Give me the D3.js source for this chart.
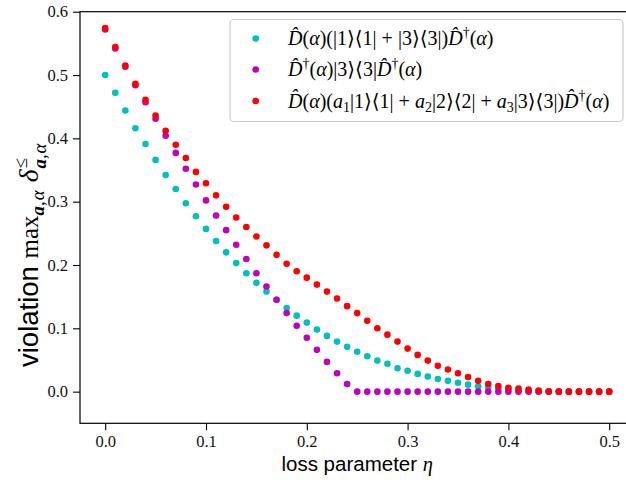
<!DOCTYPE html>
<html>
<head>
<meta charset="utf-8">
<script src="https://cdn.jsdelivr.net/npm/d3@7"></script>
<style>
  html, body { margin: 0; padding: 0; background: #fff; }
  svg { display: block; }
  text { white-space: pre; }
</style>
</head>
<body>
<svg id="chart" width="626" height="487"></svg>
<script>
// ---------- data ----------
const eta = [0.00,0.01,0.02,0.03,0.04,0.05,0.06,0.07,0.08,0.09,
             0.10,0.11,0.12,0.13,0.14,0.15,0.16,0.17,0.18,0.19,
             0.20,0.21,0.22,0.23,0.24,0.25,0.26,0.27,0.28,0.29,
             0.30,0.31,0.32,0.33,0.34,0.35,0.36,0.37,0.38,0.39,
             0.40,0.41,0.42,0.43,0.44,0.45,0.46,0.47,0.48,0.49,0.50];

const cyanVals = [0.500,0.472,0.444,0.416,0.391,0.366,0.342,0.320,0.2975,0.277,
                  0.257,0.238,0.220,0.203,0.187,0.172,0.158,0.145,0.132,0.120,
                  0.109,0.098,0.088,0.079,0.071,0.063,0.056,0.049,0.044,0.037,
                  0.033,0.028,0.024,0.020,0.017,0.014,0.011,0.0085,0.0065,0.005,
                  0.0035,0.0023,0.0013,0.0006,0.0002,0,0,0,0,0,0];

const magentaVals = [0.572,0.542,0.513,0.484,0.457,0.431,0.404,0.377,0.352,0.327,
                     0.302,0.278,0.255,0.232,0.2095,0.187,0.166,0.145,0.124,0.104,
                     0.085,0.066,0.047,0.029,0.012,0,0,0,0,0,
                     0,0,0,0,0,0,0,0,0,0,
                     0,0,0,0,0,0,0,0,0,0,0];

const redVals = [0.574,0.544,0.515,0.486,0.461,0.436,0.412,0.390,0.369,0.347,
                 0.329,0.310,0.292,0.275,0.260,0.245,0.231,0.216,0.202,0.190,
                 0.180,0.169,0.158,0.147,0.135,0.124,0.112,0.100,0.090,0.079,
                 0.068,0.058,0.049,0.041,0.035,0.029,0.023,0.017,0.012,0.009,
                 0.006,0.0047,0.0032,0.0016,0.0006,0,0,0,0,0,0];

const xTicks = [0.0,0.1,0.2,0.3,0.4,0.5];
const yTicks = [0.0,0.1,0.2,0.3,0.4,0.5,0.6];
const seriesColors = ["#00bfbf", "#bf00bf", "#ff0000"];

// ---------- layout ----------
const svg = d3.select("#chart");
const L = 80, R = 634.4, T = 11.7, B = 423.3;
const x = d3.scaleLinear().domain([-0.025, 0.525]).range([L, R]);
const y = d3.scaleLinear().domain([-0.05, 0.6]).range([B, T]);

const SERIF = "'Liberation Serif', 'DejaVu Serif', serif";
const SANS = "'Liberation Sans', Arial, sans-serif";

// axes
const xAxis = svg.append("g").attr("transform", `translate(0,${B})`)
  .call(d3.axisBottom(x).tickValues(xTicks).tickFormat(d3.format(".1f")).tickSize(7).tickPadding(5).tickSizeOuter(0));
const yAxis = svg.append("g").attr("transform", `translate(${L},0)`)
  .call(d3.axisLeft(y).tickValues(yTicks).tickFormat(d3.format(".1f")).tickSize(7).tickPadding(5).tickSizeOuter(0));
[xAxis, yAxis].forEach(a => {
  a.attr("font-family", null).attr("font-size", null);
  a.select(".domain").remove();
  a.selectAll(".tick line").attr("stroke", "#000").attr("stroke-width", 1.1);
  a.selectAll(".tick text").style("font-family", SERIF).style("font-size", "16.5px").attr("fill", "#111");
});

// frame
svg.append("rect").attr("x", L).attr("y", T).attr("width", R - L).attr("height", B - T)
  .attr("fill", "none").attr("stroke", "#000").attr("stroke-width", 1.2);

// points
const allSeries = [cyanVals, magentaVals, redVals];
allSeries.forEach((vals, i) => {
  svg.append("g").selectAll("circle").data(vals).join("circle")
    .attr("cx", (d, j) => x(eta[j]))
    .attr("cy", d => y(d))
    .attr("r", 3.3)
    .attr("fill", seriesColors[i]);
});

// ---------- math text helper ----------
function drawMath(g, segs, x0, y0, base) {
  let cx = x0;
  segs.forEach(s => {
    cx += (s.pre || 0);
    const t = g.append("text")
      .attr("x", cx)
      .attr("y", y0 + (s.dy || 0) * base)
      .style("font-family", s.fam || SERIF)
      .style("font-size", (base * (s.sc || 1)) + "px")
      .style("font-style", s.it ? "italic" : "normal")
      .style("font-weight", s.bf ? "bold" : "normal")
      .attr("fill", "#000")
      .text(s.t);
    const w = t.node().getComputedTextLength();
    if (!s.noadv) cx += w + (s.post || 0);
  });
  return cx - x0;
}

// ---------- legend ----------
const lg = svg.append("g");
lg.append("rect").attr("x", 230).attr("y", 19.5).attr("width", 393).attr("height", 102)
  .attr("rx", 4).attr("fill", "#fff").attr("fill-opacity", 0.8)
  .attr("stroke", "#cccccc").attr("stroke-width", 1.2);

const D = {t: "D\u0302", it: true};
const Dd = [{t: "D\u0302", it: true}, {t: "\u2020", sc: 0.7, dy: -0.4}];
const alp = [{t: "("}, {t: "\u03b1", it: true}, {t: ")"}];
const ket = n => [{t: "|" + n + "\u27e9\u27e8" + n + "|"}];
const plus = {t: "+", pre: 5, post: 5};
const legendLabels = [
  [D, ...alp, {t: "("}, ...ket(1), plus, ...ket(3), {t: ")"}, ...Dd, ...alp],
  [...Dd, ...alp, ...ket(3), ...Dd, ...alp],
  [D, ...alp, {t: "("}, {t: "a", it: true}, {t: "1", sc: 0.7, dy: 0.22}, ...ket(1), plus,
   {t: "a", it: true}, {t: "2", sc: 0.7, dy: 0.22}, ...ket(2), plus,
   {t: "a", it: true}, {t: "3", sc: 0.7, dy: 0.22}, ...ket(3), {t: ")"}, ...Dd, ...alp]
];
const legendY = [38.5, 69.5, 101];
legendLabels.forEach((segs, i) => {
  lg.append("circle").attr("cx", 255.7).attr("cy", legendY[i]).attr("r", 3.3).attr("fill", seriesColors[i]);
  drawMath(lg, segs, 288, legendY[i] + 6.5, 20);
});

// ---------- axis labels ----------
const xl = svg.append("g");
const xw = drawMath(xl, [{t: "loss parameter ", fam: SANS}, {t: "\u03b7", it: true}], 0, 0, 20.5);
xl.attr("transform", `translate(${(L + R) / 2 - xw / 2}, 471)`);

const ylg = svg.append("g");
const ySegs = [
  {t: "violation ", fam: SANS, sc: 1.1},
  {t: "max"},
  {t: "a", it: true, bf: true, sc: 0.75, dy: 0.25},
  {t: ",", sc: 0.75, dy: 0.25, post: 1},
  {t: "\u03b1", it: true, sc: 0.75, dy: 0.25},
  {t: " ", pre: 2},
  {t: "\u03b4", it: true, sc: 1.1, post: 1},
  {t: "\u2264", sc: 0.75, dy: -0.45, noadv: true},
  {t: "a", it: true, bf: true, sc: 0.75, dy: 0.3},
  {t: ",", sc: 0.75, dy: 0.3, post: 1},
  {t: "\u03b1", it: true, sc: 0.75, dy: 0.3}
];
const yw = drawMath(ylg, ySegs, 0, 0, 25);
ylg.attr("transform", `translate(38, ${367}) rotate(-90)`);
</script>
</body>
</html>
